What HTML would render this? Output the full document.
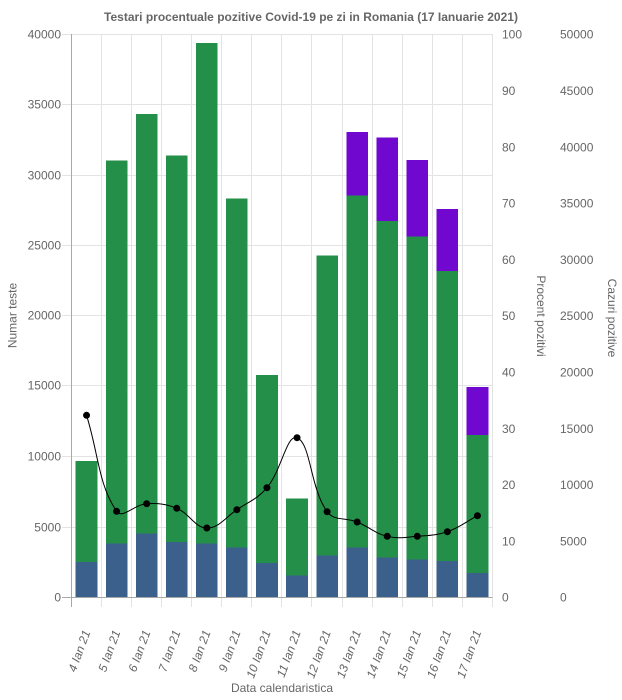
<!DOCTYPE html>
<html>
<head>
<meta charset="utf-8">
<style>
  html, body { margin: 0; padding: 0; background: #ffffff; }
  svg { display: block; }
  text { font-family: "Liberation Sans", Arial, sans-serif; font-size: 12px; fill: #666666; }
</style>
</head>
<body>
<svg width="622" height="700" viewBox="0 0 622 700" xmlns="http://www.w3.org/2000/svg">
  <rect x="0" y="0" width="622" height="700" fill="#ffffff"/>

  <!-- horizontal grid lines (incl. left tick marks) -->
  <g stroke="#e3e3e3" stroke-width="1" shape-rendering="crispEdges">
    <line x1="62" y1="34.5" x2="492.5" y2="34.5"/>
    <line x1="62" y1="104.5" x2="492.5" y2="104.5"/>
    <line x1="62" y1="175.5" x2="492.5" y2="175.5"/>
    <line x1="62" y1="245.5" x2="492.5" y2="245.5"/>
    <line x1="62" y1="315.5" x2="492.5" y2="315.5"/>
    <line x1="62" y1="385.5" x2="492.5" y2="385.5"/>
    <line x1="62" y1="456.5" x2="492.5" y2="456.5"/>
    <line x1="62" y1="527.5" x2="492.5" y2="527.5"/>
  </g>
  <!-- vertical grid lines (incl. bottom tick marks) -->
  <g stroke="#e3e3e3" stroke-width="1" shape-rendering="crispEdges">
    <line x1="101.5" y1="34" x2="101.5" y2="607"/>
    <line x1="131.5" y1="34" x2="131.5" y2="607"/>
    <line x1="161.5" y1="34" x2="161.5" y2="607"/>
    <line x1="191.5" y1="34" x2="191.5" y2="607"/>
    <line x1="221.5" y1="34" x2="221.5" y2="607"/>
    <line x1="251.5" y1="34" x2="251.5" y2="607"/>
    <line x1="281.5" y1="34" x2="281.5" y2="607"/>
    <line x1="311.5" y1="34" x2="311.5" y2="607"/>
    <line x1="342.5" y1="34" x2="342.5" y2="607"/>
    <line x1="372.5" y1="34" x2="372.5" y2="607"/>
    <line x1="402.5" y1="34" x2="402.5" y2="607"/>
    <line x1="432.5" y1="34" x2="432.5" y2="607"/>
    <line x1="462.5" y1="34" x2="462.5" y2="607"/>
    <line x1="492.5" y1="34" x2="492.5" y2="607"/>
  </g>

  <!-- bars: blue (bottom), green (middle), purple (top) -->
  <g shape-rendering="crispEdges">
    <!-- 0 -->
    <rect x="75.72" y="562" width="21.65" height="35" fill="#3b608c"/>
    <rect x="75.72" y="461" width="21.65" height="101" fill="#248f48"/>
    <!-- 1 -->
    <rect x="105.79" y="543.7" width="21.65" height="53.3" fill="#3b608c"/>
    <rect x="105.79" y="160.7" width="21.65" height="383" fill="#248f48"/>
    <!-- 2 -->
    <rect x="135.86" y="533.3" width="21.65" height="63.7" fill="#3b608c"/>
    <rect x="135.86" y="114" width="21.65" height="419.3" fill="#248f48"/>
    <!-- 3 -->
    <rect x="165.93" y="542" width="21.65" height="55" fill="#3b608c"/>
    <rect x="165.93" y="155.5" width="21.65" height="386.5" fill="#248f48"/>
    <!-- 4 -->
    <rect x="196.0" y="543.3" width="21.65" height="53.7" fill="#3b608c"/>
    <rect x="196.0" y="43" width="21.65" height="500.3" fill="#248f48"/>
    <!-- 5 -->
    <rect x="226.07" y="547.7" width="21.65" height="49.3" fill="#3b608c"/>
    <rect x="226.07" y="198.7" width="21.65" height="349" fill="#248f48"/>
    <!-- 6 -->
    <rect x="256.14" y="563" width="21.65" height="34" fill="#3b608c"/>
    <rect x="256.14" y="375" width="21.65" height="188" fill="#248f48"/>
    <!-- 7 -->
    <rect x="286.21" y="575.3" width="21.65" height="21.7" fill="#3b608c"/>
    <rect x="286.21" y="498.7" width="21.65" height="76.6" fill="#248f48"/>
    <!-- 8 -->
    <rect x="316.28" y="555.7" width="21.65" height="41.3" fill="#3b608c"/>
    <rect x="316.28" y="255.3" width="21.65" height="300.4" fill="#248f48"/>
    <!-- 9 -->
    <rect x="346.35" y="547.3" width="21.65" height="49.7" fill="#3b608c"/>
    <rect x="346.35" y="195.3" width="21.65" height="352" fill="#248f48"/>
    <rect x="346.35" y="132" width="21.65" height="63.3" fill="#7008d0"/>
    <!-- 10 -->
    <rect x="376.42" y="557.7" width="21.65" height="39.3" fill="#3b608c"/>
    <rect x="376.42" y="221" width="21.65" height="336.7" fill="#248f48"/>
    <rect x="376.42" y="137.3" width="21.65" height="83.7" fill="#7008d0"/>
    <!-- 11 -->
    <rect x="406.49" y="559.7" width="21.65" height="37.3" fill="#3b608c"/>
    <rect x="406.49" y="236.3" width="21.65" height="323.4" fill="#248f48"/>
    <rect x="406.49" y="160" width="21.65" height="76.3" fill="#7008d0"/>
    <!-- 12 -->
    <rect x="436.56" y="561" width="21.65" height="36" fill="#3b608c"/>
    <rect x="436.56" y="271" width="21.65" height="290" fill="#248f48"/>
    <rect x="436.56" y="209" width="21.65" height="62" fill="#7008d0"/>
    <!-- 13 -->
    <rect x="466.63" y="573" width="21.65" height="24" fill="#3b608c"/>
    <rect x="466.63" y="435" width="21.65" height="138" fill="#248f48"/>
    <rect x="466.63" y="387" width="21.65" height="48" fill="#7008d0"/>
  </g>

  <!-- axis lines -->
  <g stroke="#a8a8a8" stroke-width="1" shape-rendering="crispEdges">
    <line x1="71.5" y1="34" x2="71.5" y2="607"/>
    <line x1="62" y1="597.5" x2="492.5" y2="597.5"/>
  </g>

  <!-- percent line -->
  <path transform="matrix(1.002333,0,0,1,-0.162,0)" fill="none" stroke="#000000" stroke-width="1"
    d="M86.5,415.3 C98.5,453.7 98.15,484.26 116.5,511.3
       C122.15,519.62 134.38,504.31 146.5,503.7
       C158.38,503.11 165.5,503.85 176.5,508.3
       C189.5,513.57 194.37,527.72 206.5,528
       C218.37,528.28 224.84,517.53 236.5,509.7
       C248.84,501.41 257.15,498.92 266.5,487.7
       C281.15,470.12 286.37,433.65 296.5,437.7
       C310.37,443.25 309.32,487.56 326.5,511.7
       C333.32,521.29 344.78,517.19 356.5,522
       C368.78,527.03 373.89,533.29 386.5,536.3
       C397.89,539.01 404.57,537.21 416.5,536.3
       C428.57,535.37 435.18,535.59 446.5,531.7
       C459.18,527.35 464.5,522.1 476.5,515.7"/>
  <g fill="#000000">
    <circle cx="86.54" cy="415.3" r="3.5"/>
    <circle cx="116.61" cy="511.3" r="3.5"/>
    <circle cx="146.68" cy="503.7" r="3.5"/>
    <circle cx="176.75" cy="508.3" r="3.5"/>
    <circle cx="206.82" cy="528" r="3.5"/>
    <circle cx="236.89" cy="509.7" r="3.5"/>
    <circle cx="266.96" cy="487.7" r="3.5"/>
    <circle cx="297.03" cy="437.7" r="3.5"/>
    <circle cx="327.10" cy="511.7" r="3.5"/>
    <circle cx="357.17" cy="522" r="3.5"/>
    <circle cx="387.24" cy="536.3" r="3.5"/>
    <circle cx="417.31" cy="536.3" r="3.5"/>
    <circle cx="447.38" cy="531.7" r="3.5"/>
    <circle cx="477.45" cy="515.7" r="3.5"/>
  </g>

  <!-- title -->
  <text x="311" y="21" text-anchor="middle" font-weight="bold">Testari procentuale pozitive Covid-19 pe zi in Romania (17 Ianuarie 2021)</text>

  <!-- left axis labels -->
  <g text-anchor="end">
    <text x="61" y="38.7">40000</text>
    <text x="61" y="108.7">35000</text>
    <text x="61" y="179.7">30000</text>
    <text x="61" y="249.7">25000</text>
    <text x="61" y="319.7">20000</text>
    <text x="61" y="389.7">15000</text>
    <text x="61" y="460.7">10000</text>
    <text x="61" y="531.7">5000</text>
    <text x="61" y="601.7">0</text>
  </g>

  <!-- right axis 1 labels (percent) -->
  <g text-anchor="start">
    <text x="502" y="38.7">100</text>
    <text x="502" y="95.0">90</text>
    <text x="502" y="151.3">80</text>
    <text x="502" y="207.6">70</text>
    <text x="502" y="263.9">60</text>
    <text x="502" y="320.2">50</text>
    <text x="502" y="376.5">40</text>
    <text x="502" y="432.8">30</text>
    <text x="502" y="489.1">20</text>
    <text x="502" y="545.4">10</text>
    <text x="502" y="601.7">0</text>
  </g>

  <!-- right axis 2 labels (cases) -->
  <g text-anchor="start">
    <text x="560" y="38.7">50000</text>
    <text x="560" y="95.0">45000</text>
    <text x="560" y="151.3">40000</text>
    <text x="560" y="207.6">35000</text>
    <text x="560" y="263.9">30000</text>
    <text x="560" y="320.2">25000</text>
    <text x="560" y="376.5">20000</text>
    <text x="560" y="432.8">15000</text>
    <text x="560" y="489.1">10000</text>
    <text x="560" y="545.4">5000</text>
    <text x="560" y="601.7">0</text>
  </g>

  <!-- x axis labels -->
  <g text-anchor="end" font-style="italic">
    <text x="86.54" y="634.7" transform="rotate(-70 86.54 630.5)">4 Ian 21</text>
    <text x="116.61" y="634.7" transform="rotate(-70 116.61 630.5)">5 Ian 21</text>
    <text x="146.68" y="634.7" transform="rotate(-70 146.68 630.5)">6 Ian 21</text>
    <text x="176.75" y="634.7" transform="rotate(-70 176.75 630.5)">7 Ian 21</text>
    <text x="206.82" y="634.7" transform="rotate(-70 206.82 630.5)">8 Ian 21</text>
    <text x="236.89" y="634.7" transform="rotate(-70 236.89 630.5)">9 Ian 21</text>
    <text x="266.96" y="634.7" transform="rotate(-70 266.96 630.5)">10 Ian 21</text>
    <text x="297.03" y="634.7" transform="rotate(-70 297.03 630.5)">11 Ian 21</text>
    <text x="327.10" y="634.7" transform="rotate(-70 327.10 630.5)">12 Ian 21</text>
    <text x="357.17" y="634.7" transform="rotate(-70 357.17 630.5)">13 Ian 21</text>
    <text x="387.24" y="634.7" transform="rotate(-70 387.24 630.5)">14 Ian 21</text>
    <text x="417.31" y="634.7" transform="rotate(-70 417.31 630.5)">15 Ian 21</text>
    <text x="447.38" y="634.7" transform="rotate(-70 447.38 630.5)">16 Ian 21</text>
    <text x="477.45" y="634.7" transform="rotate(-70 477.45 630.5)">17 Ian 21</text>
  </g>

  <!-- axis titles -->
  <text x="282" y="692" text-anchor="middle">Data calendaristica</text>
  <text transform="translate(16.5,315.5) rotate(-90)" text-anchor="middle">Numar teste</text>
  <text transform="translate(537,316) rotate(90)" text-anchor="middle">Procent pozitivi</text>
  <text transform="translate(608,318) rotate(90)" text-anchor="middle">Cazuri pozitive</text>
</svg>
</body>
</html>
